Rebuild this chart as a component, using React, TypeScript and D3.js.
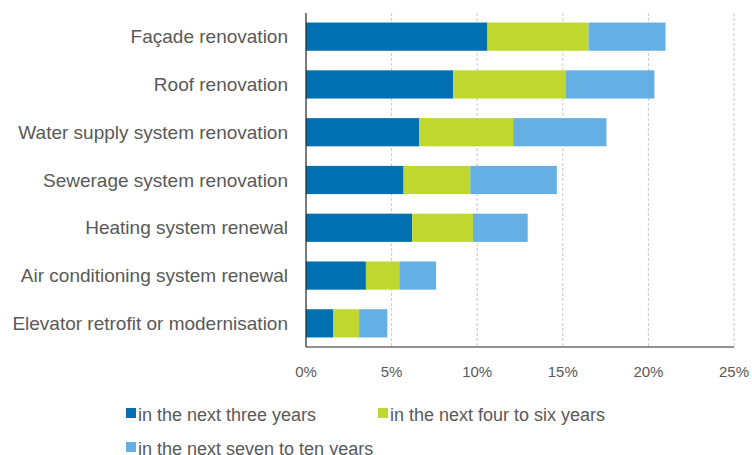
import React from "react";
import * as d3 from "d3";

const categories = [
  "Façade renovation",
  "Roof renovation",
  "Water supply system renovation",
  "Sewerage system renovation",
  "Heating system renewal",
  "Air conditioning system renewal",
  "Elevator retrofit or modernisation",
];
const seriesNames = [
  "in the next three years",
  "in the next four to six years",
  "in the next seven to ten years",
];
const next3 = [10.6, 8.6, 6.6, 5.7, 6.2, 3.5, 1.6];
const next4to6 = [5.9, 6.55, 5.5, 3.9, 3.55, 1.95, 1.5];
const next7to10 = [4.5, 5.2, 5.45, 5.05, 3.2, 2.15, 1.65];
const xTicks = [0, 5, 10, 15, 20, 25];
const colors = ["#0070b0", "#c0d72f", "#64b0e4"];

export default function App() {
  const W = 752, H = 455;
  const x0 = 306, x1 = 734, yTop = 13, yBot = 347;
  const x = d3.scaleLinear().domain([0, 25]).range([x0, x1]);
  const y = d3.scaleBand().domain(categories).range([yTop, yBot]).paddingInner(0.41).paddingOuter(0.2);
  const rows = categories.map((c, i) => ({ cat: c, vals: [next3[i], next4to6[i], next7to10[i]] }));
  const stack = d3.stack<any>().keys(["0", "1", "2"]).value((d, k) => d.vals[+k])(rows);
  const font = "'Liberation Sans', Arial, sans-serif";
  const legend = [
    { x: 126, y: 421 },
    { x: 378, y: 421 },
    { x: 126, y: 455 },
  ];
  return (
    <svg width={W} height={H} style={{ position: "absolute", left: 0, top: 0 }} fontFamily={font}>
      <rect width={W} height={H} fill="#fff" />
      {xTicks.slice(1).map((t) => (
        <line key={t} x1={x(t)} x2={x(t)} y1={yTop} y2={yBot} stroke="#c8c8c8" strokeDasharray="3,2" />
      ))}
      {stack.map((s, si) =>
        s.map((d, i) => (
          <rect
            key={si + "-" + i}
            x={x(d[0])}
            y={y(categories[i])!}
            width={x(d[1]) - x(d[0])}
            height={y.bandwidth()}
            fill={colors[si]}
          />
        ))
      )}
      <line x1={x0} x2={x0} y1={yTop} y2={yBot} stroke="#222" strokeWidth={1.2} />
      <line x1={x0} x2={x1} y1={yBot} y2={yBot} stroke="#222" strokeWidth={1.2} />
      {categories.map((c) => (
        <text key={c} x={288} y={y(c)! + y.bandwidth() / 2} dy="0.35em" textAnchor="end" fontSize={19} fill="#595959">
          {c}
        </text>
      ))}
      {xTicks.map((t) => (
        <text key={t} x={x(t)} y={372} dy="0.35em" textAnchor="middle" fontSize={15} fill="#595959">
          {t}%
        </text>
      ))}
      {seriesNames.map((n, i) => (
        <g key={n}>
          <rect x={legend[i].x} y={legend[i].y - 13} width={10} height={10} fill={colors[i]} />
          <text x={legend[i].x + 12} y={legend[i].y} fontSize={18} fill="#595959">
            {n}
          </text>
        </g>
      ))}
    </svg>
  );
}
